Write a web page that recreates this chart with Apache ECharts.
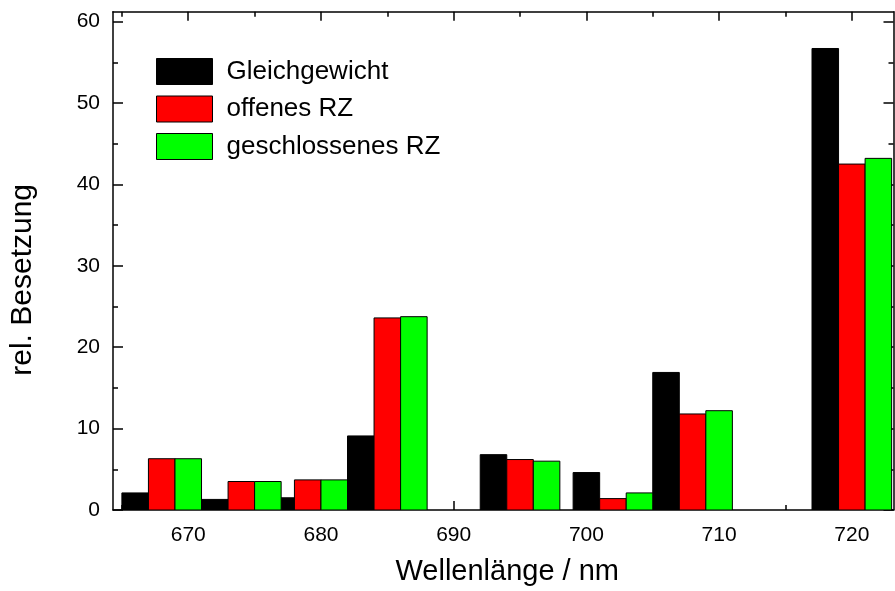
<!DOCTYPE html>
<html>
<head>
<meta charset="utf-8">
<script src="https://cdn.jsdelivr.net/npm/echarts@6/dist/echarts.min.js"></script>
<style>
html,body{margin:0;padding:0;background:#ffffff;}
#chart{width:895px;height:591px;}
</style>
</head>
<body>
<div id="chart"></div>
<script>
// ---- data ----
const wavelengths = [668, 674, 679, 685, 695, 702, 708, 720];
const seriesNames = ['Gleichgewicht', 'offenes RZ', 'geschlossenes RZ'];
const gleichgewicht = [2.1, 1.3, 1.5, 9.1, 6.8, 4.6, 16.9, 56.7];
const offenesRZ = [6.3, 3.5, 3.7, 23.6, 6.2, 1.4, 11.8, 42.5];
const geschlossenesRZ = [6.3, 3.5, 3.7, 23.75, 6.0, 2.1, 12.2, 43.2];
const xTicks = [670, 680, 690, 700, 710, 720];
const xMinorTicks = [665, 675, 685, 695, 705, 715];
const yTicks = [0, 10, 20, 30, 40, 50, 60];
const yMinorTicks = [5, 15, 25, 35, 45, 55];

// ---- layout / style ----
const FONT = '"Liberation Sans", Arial, Helvetica, sans-serif';
const colors = ['#000000', '#ff0000', '#00ff00'];
const offsets = [-2, 0, 2];   // nm offset of each series within a group
const barWidth = 2;           // nm
const gridBox = { left: 111.3, top: 11.7, width: 782.2, height: 499.9 };
const xMin = 664.33, xMax = 723.14;
const yMin = 0, yMax = 61.22;

const chart = echarts.init(document.getElementById('chart'), null, { renderer: 'canvas' });

function renderBar(params, api) {
  const x = api.value(0);
  const v = api.value(1);
  const p0 = api.coord([x - barWidth / 2, v]);
  const p1 = api.coord([x + barWidth / 2, 0]);
  return {
    type: 'rect',
    shape: { x: p0[0], y: p0[1], width: p1[0] - p0[0], height: p1[1] - p0[1] },
    style: { fill: api.visual('color'), stroke: '#000000', lineWidth: 1 }
  };
}

const valueSets = [gleichgewicht, offenesRZ, geschlossenesRZ];
const series = valueSets.map(function (vals, s) {
  return {
    type: 'custom',
    name: seriesNames[s],
    xAxisIndex: 0,
    yAxisIndex: 0,
    clip: true,
    renderItem: renderBar,
    itemStyle: { color: colors[s], borderColor: '#000', borderWidth: 1 },
    encode: { x: 0, y: 1 },
    data: wavelengths.map(function (w, i) { return [w + offsets[s], vals[i]]; })
  };
});

function axisBase(extra) {
  return Object.assign({
    type: 'value',
    gridIndex: 0,
    splitLine: { show: false },
    axisLine: { show: false, onZero: false },
    axisLabel: { show: false },
    axisTick: { show: false }
  }, extra);
}

const lineStyle = { color: '#000000', width: 1.5 };

const option = {
  animation: false,
  backgroundColor: '#ffffff',
  textStyle: { fontFamily: FONT },
  grid: Object.assign({ containLabel: false }, gridBox),
  legend: {
    orient: 'vertical',
    left: 151,
    top: 53,
    itemWidth: 56,
    itemHeight: 26,
    itemGap: 10.5,
    icon: 'rect',
    data: seriesNames,
    itemStyle: { borderColor: '#000', borderWidth: 1 },
    textStyle: { fontFamily: FONT, fontSize: 26, color: '#000', padding: [0, 0, 0, 9] }
  },
  xAxis: [
    axisBase({
      position: 'bottom', min: xMin, max: xMax,
      axisLine: { show: true, onZero: false, lineStyle: lineStyle },
      axisTick: { show: true, inside: true, length: 9, lineStyle: lineStyle, customValues: xTicks },
      axisLabel: { show: true, customValues: xTicks, margin: 15, fontFamily: FONT, fontSize: 21, color: '#000' },
      name: 'Wellenlänge / nm',
      nameLocation: 'middle',
      nameGap: 47,
      nameTextStyle: { fontFamily: FONT, fontSize: 29, color: '#000', padding: [0, 0, 0, 8] }
    }),
    axisBase({
      position: 'top', min: xMin, max: xMax,
      axisLine: { show: true, onZero: false, lineStyle: lineStyle },
      axisTick: { show: true, inside: true, length: 9, lineStyle: lineStyle, customValues: xTicks }
    }),
    axisBase({
      position: 'bottom', min: xMin, max: xMax,
      axisLine: { show: false, onZero: false },
      axisTick: { show: true, inside: true, length: 5, lineStyle: lineStyle, customValues: xMinorTicks }
    }),
    axisBase({
      position: 'top', min: xMin, max: xMax,
      axisLine: { show: false, onZero: false },
      axisTick: { show: true, inside: true, length: 5, lineStyle: lineStyle, customValues: xMinorTicks }
    })
  ],
  yAxis: [
    axisBase({
      position: 'left', min: yMin, max: yMax,
      axisLine: { show: true, onZero: false, lineStyle: lineStyle },
      axisTick: { show: true, inside: true, length: 10, lineStyle: lineStyle, customValues: yTicks },
      axisLabel: { show: true, customValues: yTicks, margin: 13, fontFamily: FONT, fontSize: 21, color: '#000' },
      name: 'rel. Besetzung',
      nameLocation: 'middle',
      nameRotate: 90,
      nameGap: 75,
      nameTextStyle: { fontFamily: FONT, fontSize: 30, color: '#000', padding: [0, 38, 0, 0] }
    }),
    axisBase({
      position: 'right', min: yMin, max: yMax,
      axisLine: { show: true, onZero: false, lineStyle: lineStyle },
      axisTick: { show: true, inside: true, length: 10, lineStyle: lineStyle, customValues: yTicks }
    }),
    axisBase({
      position: 'left', min: yMin, max: yMax,
      axisLine: { show: false, onZero: false },
      axisTick: { show: true, inside: true, length: 5, lineStyle: lineStyle, customValues: yMinorTicks }
    }),
    axisBase({
      position: 'right', min: yMin, max: yMax,
      axisLine: { show: false, onZero: false },
      axisTick: { show: true, inside: true, length: 5, lineStyle: lineStyle, customValues: yMinorTicks }
    })
  ],
  series: series
};

chart.setOption(option);
</script>
</body>
</html>
